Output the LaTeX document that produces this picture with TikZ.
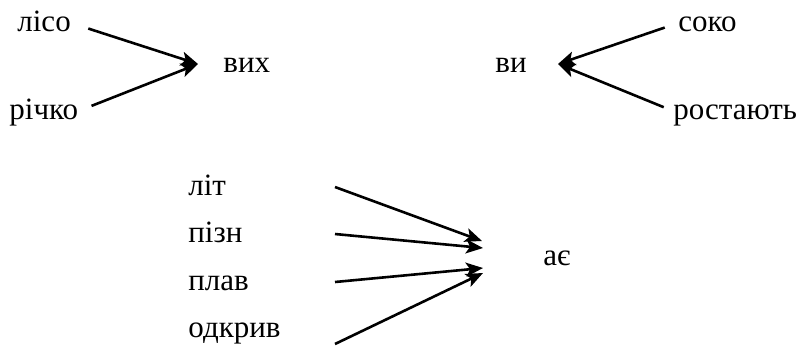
\documentclass[tikz,border=0pt]{standalone}
\usepackage{fontspec}
\setmainfont{Liberation Serif}
\usetikzlibrary{arrows.meta}

\begin{document}
\begin{tikzpicture}[x=0.5pt,y=-0.5pt,
        word/.style={anchor=base west,inner sep=0pt,text height=8pt,text depth=0pt,
            font=\fontsize{15.5}{18}\selectfont},
        arr/.style={line width=1.3pt,-{Stealth[length=8.5pt,width=7pt,inset=2pt]}}]
            \useasboundingbox (0,0) rectangle (803,345);
            % left
            \node[word] (liso) at (17,31) {лісо};
            \node[word] (richko) at (9,119) {річко};
            \node[word] (vykh) at (223,72) {вих};
            \coordinate (vykh-in) at (198,64);
            \draw[arr,shorten <=9pt] (liso.east) to (vykh-in);
            \draw[arr,shorten <=7pt] (richko.east) to (vykh-in);
            % right
            \node[word] (vy) at (495,72) {ви};
            \node[word] (soko) at (678,31) {соко};
            \node[word] (rostaiut) at (673,119) {ростають};
            \coordinate (vy-in) at (558,64);
            \draw[arr,shorten <=7pt] (soko.west) to (vy-in);
            \draw[arr,shorten <=5pt] (rostaiut.west) to (vy-in);
            % bottom
            \node[word] (lit) at (188,195) {літ};
            \node[word] (pizn) at (188,242) {пізн};
            \node[word] (plav) at (188,290) {плав};
            \node[word] (odkryv) at (188,337) {одкрив};
            \node[word] (aie) at (543,265) {ає};
            \coordinate (fan) at (335,0);
            \coordinate (aie-1) at (482,241);
            \coordinate (aie-2) at (483,248);
            \coordinate (aie-3) at (483,268);
            \coordinate (aie-4) at (483,273);
            \draw[arr] (lit.east -| fan) to (aie-1);
            \draw[arr] (pizn.east -| fan) to (aie-2);
            \draw[arr] (plav.east -| fan) to (aie-3);
            \draw[arr] ([yshift=-7.5pt]odkryv.east -| fan) to (aie-4);
        \end{tikzpicture}
\end{document}
